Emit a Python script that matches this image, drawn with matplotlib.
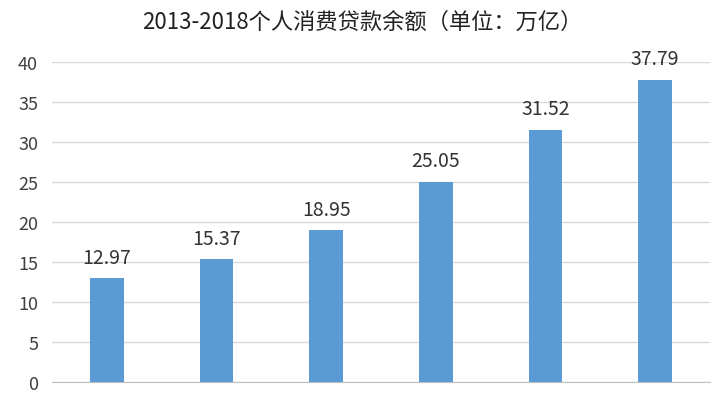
import matplotlib
matplotlib.use("Agg")
import matplotlib.pyplot as plt

plt.rcParams['font.family'] = ['Noto Sans CJK SC', 'DejaVu Sans']

years = ["2013", "2014", "2015", "2016", "2017", "2018"]
values = [12.97, 15.37, 18.95, 25.05, 31.52, 37.79]
title = "2013-2018个人消费贷款余额（单位：万亿）"

fig = plt.figure(figsize=(7.24, 4.02), dpi=100)
ax = fig.add_axes([52/724, 19/402, 658/724, 320/402])
x = range(len(values))
bars = ax.bar(x, values, width=0.31, color="#5B9BD5", zorder=3)
for xi, v in zip(x, values):
    ax.text(xi, v + 1.3, f"{v:.2f}", ha="center", va="bottom", fontsize=14, color="#333333")
ax.set_xlim(-0.5, len(values) - 0.5)
ax.set_ylim(0, 40)
ax.set_yticks(range(0, 41, 5))
ax.set_xticks([])
ax.grid(axis="y", color="#D9D9D9", linewidth=1, zorder=0)
for s in ["top", "right", "left"]:
    ax.spines[s].set_visible(False)
ax.spines["bottom"].set_color("#BFBFBF")
ax.tick_params(axis="y", length=0, labelsize=13, colors="#404040", pad=10)
fig.text(0.5, 1 - 22/402, title, ha="center", va="center", fontsize=16, color="#222222")
fig.savefig("out.png", dpi=100)
